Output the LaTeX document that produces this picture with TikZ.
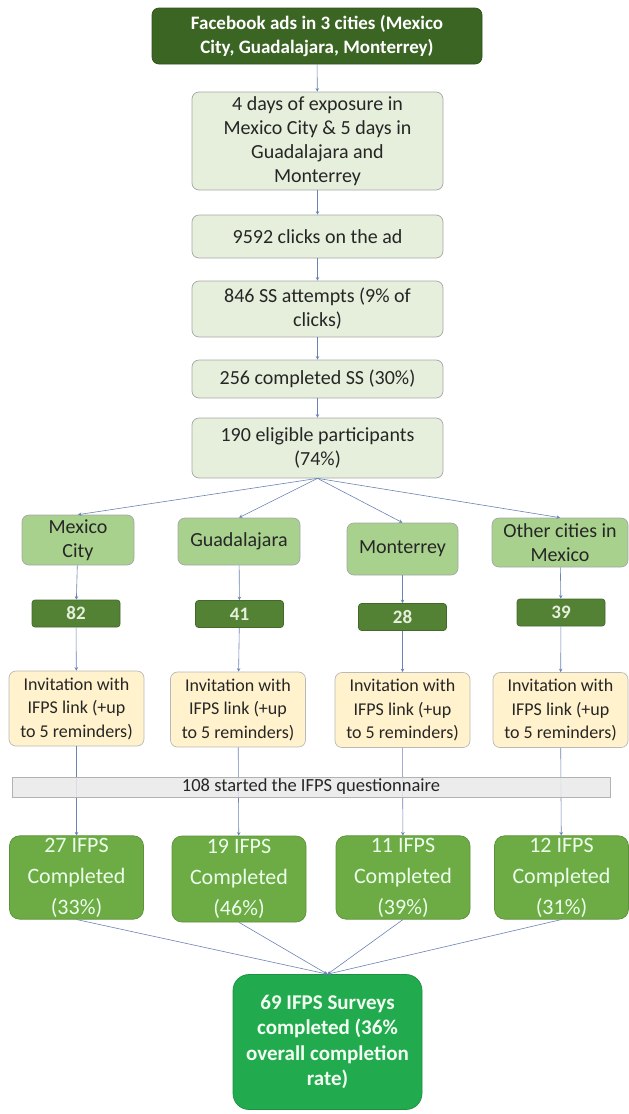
\documentclass[tikz,border=0pt]{standalone}
\usepackage{fontspec}
\setmainfont{Carlito}
\usepackage{tikz}
\usetikzlibrary{arrows.meta}

\definecolor{darkgreen}{HTML}{3B6523}
\definecolor{numgreen}{HTML}{548235}
\definecolor{paleg}{HTML}{E6EFDC}
\definecolor{cityg}{HTML}{A9D18E}
\definecolor{inviteY}{HTML}{FFF2CC}
\definecolor{barg}{HTML}{E9E9E9}
\definecolor{doneg}{HTML}{6DAB45}
\definecolor{finalg}{HTML}{22AA4E}
\definecolor{linkc}{HTML}{6A83B5}
\definecolor{txt}{HTML}{262626}

\tikzset{
    box/.style={rounded corners=7pt, align=center, inner sep=2pt, draw=gray!70, line width=0.7pt, text=txt},
    headbox/.style={box, fill=darkgreen, draw=darkgreen!80!black, text=white, font=\bfseries\fontsize{19}{24}\selectfont},
    stagebox/.style={box, fill=paleg, minimum width=251pt, font=\fontsize{20}{24}\selectfont},
    citybox/.style={box, fill=cityg, font=\fontsize{20}{24}\selectfont},
    numbox/.style={box, rounded corners=3pt, fill=numgreen, draw=numgreen!80!black, text=paleg, minimum width=88pt, minimum height=27pt, font=\bfseries\fontsize{19}{22}\selectfont},
    invbox/.style={box, fill=inviteY, draw=gray!55, minimum width=135pt, minimum height=75pt, font=\fontsize{18}{23.5}\selectfont},
    barbox/.style={box, rounded corners=0pt, fill=barg, fill opacity=0.88, text opacity=1, draw=gray!60, minimum width=598pt, minimum height=20pt, inner sep=0pt, font=\fontsize{18.5}{20}\selectfont},
    donebox/.style={box, rounded corners=10pt, fill=doneg, draw=doneg!85!black, text=white!92!green, minimum width=134pt, font=\fontsize{22}{31}\selectfont},
    finalbox/.style={box, rounded corners=16pt, fill=finalg, draw=finalg!85!black, text=white!95!green, font=\bfseries\fontsize{21}{25.5}\selectfont},
    link/.style={draw=linkc, line width=0.6pt, -{Stealth[length=3.5pt,width=3.5pt]}}
}

\begin{document}
\begin{tikzpicture}[x=1pt,y=-1pt]
        \useasboundingbox (0,0) rectangle (629,1114);
        % Main stages
        \node[headbox, minimum width=330pt, minimum height=56pt] (ads) at (317,36) {Facebook ads in 3 cities (Mexico\\City, Guadalajara, Monterrey)};
        \node[stagebox, minimum height=98pt] (exposure) at (317.5,141) {4 days of exposure in\\Mexico City \& 5 days in\\Guadalajara and\\Monterrey};
        \node[stagebox, minimum height=43pt] (clicks) at (317.5,236.5) {9592 clicks on the ad};
        \node[stagebox, minimum height=56pt] (attempts) at (317.5,309) {846 SS attempts (9\% of\\clicks)};
        \node[stagebox, minimum height=38pt] (ss) at (317.5,379) {256 completed SS (30\%)};
        \node[stagebox, minimum height=60pt] (eligible) at (317.5,448) {190 eligible participants\\(74\%)};
        % Cities
        \node[citybox, minimum width=112pt, minimum height=50pt] (mexico) at (78,540) {Mexico\\City};
        \node[citybox, minimum width=122pt, minimum height=47pt] (guad) at (239,541.5) {Guadalajara};
        \node[citybox, minimum width=111pt, minimum height=52pt] (mont) at (402.5,549) {Monterrey};
        \node[citybox, minimum width=136pt, minimum height=49pt] (other) at (560,542.5) {Other cities in\\Mexico};
        % Counts
        \node[numbox] (n82) at (76,613.5) {82};
        \node[numbox] (n41) at (239.5,614) {41};
        \node[numbox] (n28) at (402.5,617) {28};
        \node[numbox] (n39) at (561,612.5) {39};
        % Invitations
        \node[invbox] (inv1) at (76.5,708.5) {Invitation with\\IFPS link (+up\\to 5 reminders)};
        \node[invbox] (inv2) at (238,709.5) {Invitation with\\IFPS link (+up\\to 5 reminders)};
        \node[invbox] (inv3) at (402.5,710) {Invitation with\\IFPS link (+up\\to 5 reminders)};
        \node[invbox] (inv4) at (560.5,710) {Invitation with\\IFPS link (+up\\to 5 reminders)};
        % Completed
        \node[donebox, minimum height=81pt] (done1) at (76.5,877.5) {27 IFPS\\Completed\\(33\%)};
        \node[donebox, minimum height=86pt] (done2) at (239,879) {19 IFPS\\Completed\\(46\%)};
        \node[donebox, minimum height=81pt] (done3) at (403,877.5) {11 IFPS\\Completed\\(39\%)};
        \node[donebox, minimum height=81pt] (done4) at (561.5,877.5) {12 IFPS\\Completed\\(31\%)};
        \node[finalbox, minimum width=189pt, minimum height=135pt] (total) at (327.5,1042) {69 IFPS Surveys\\completed (36\%\\overall completion\\rate)};
        % Connectors
        \draw[link] (ads) -- (exposure);
        \draw[link] (exposure) -- (clicks);
        \draw[link] (clicks) -- (attempts);
        \draw[link] (attempts) -- (ss);
        \draw[link] (ss) -- (eligible);
        \foreach \c in {mexico,guad,mont,other}
            \draw[link] (eligible.south) -- (\c.north);
        \draw[link] (mexico) -- (n82);
        \draw[link] (guad) -- (n41);
        \draw[link] (mont) -- (n28);
        \draw[link] (other) -- (n39);
        \draw[link] (n82) -- (inv1);
        \draw[link] (n41) -- (inv2);
        \draw[link] (n28) -- (inv3);
        \draw[link] (n39) -- (inv4);
        \draw[link] (inv1) -- (done1);
        \draw[link] (inv2) -- (done2);
        \draw[link] (inv3) -- (done3);
        \draw[link] (inv4) -- (done4);
        \foreach \d in {done1,done2,done3,done4}
            \draw[link] (\d.south) -- (total.north);
        % Started bar (over the lines)
        \node[barbox] (started) at (311,787) {108 started the IFPS questionnaire};
    \end{tikzpicture}
\end{document}
